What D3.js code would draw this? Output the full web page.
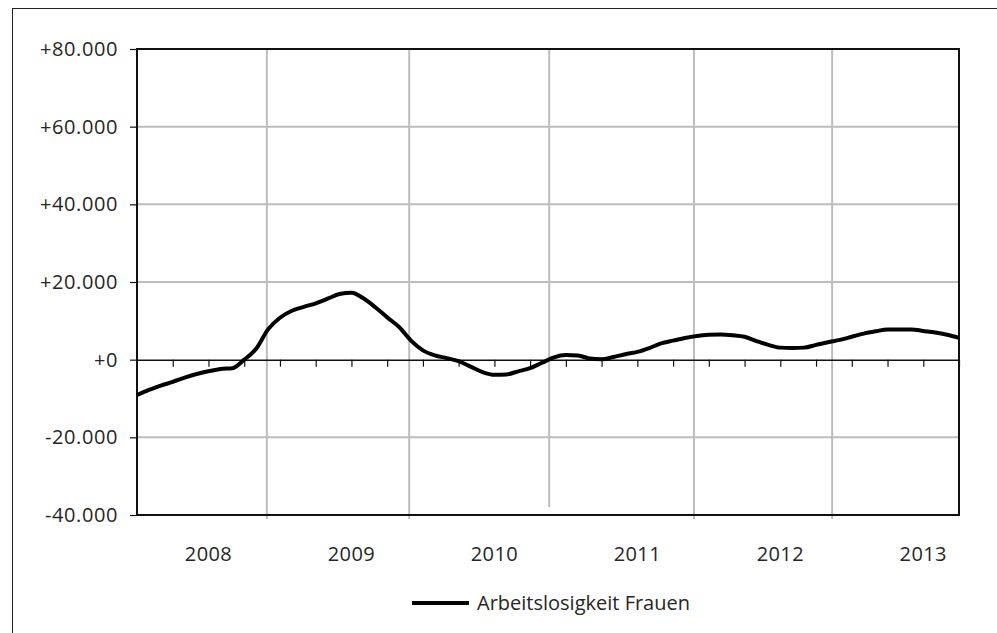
<!DOCTYPE html>
<html>
<head>
<meta charset="utf-8">
<script src="https://cdn.jsdelivr.net/npm/d3@7/dist/d3.min.js"></script>
<style>
  body { margin: 0; background: #fff; }
  svg { display: block; }
  text { font-family: "Open Sans", "DejaVu Sans", sans-serif; fill: #262626; }
</style>
</head>
<body>
<svg id="chart" width="997" height="633"></svg>
<script>
// Year labels on the category axis (each centred on its year)
const years = ["2008", "2009", "2010", "2011", "2012", "2013"];
// Value axis ticks
const yTicks = [-40000, -20000, 0, 20000, 40000, 60000, 80000];
// Monthly change, Jan 2008 – Oct 2013
const values = [
  -9100, -7800, -6700, -5700, -4600, -3700, -3000, -2400, -2200, 0,
   2800,  7800, 10800, 12600, 13600, 14500, 15700, 16900, 17200, 15800,
  13500, 10900,  8400,  4900,  2400,  1100,   400,  -400, -1800, -3200,
  -3900, -3800, -3000, -2200,  -800,   600,  1200,  1100,   300,   100,
    700,  1400,  2000,  3000,  4200,  4900,  5600,  6100,  6400,  6500,
   6300,  5900,  4800,  3800,  3100,  3000,  3100,  3800,  4500,  5100,
   5900,  6700,  7300,  7800,  7800,  7800,  7400,  7000,  6400,  5600
];
// Vertical reference lines, in months from Jan 2008
const markers = [10.9, 22.85, 34.6, 46.75, 58.35];
// How far each reference line reaches past the bottom of the plot (px)
const markerOverhang = [4, 4, -8, 4, 4];
const seriesName = "Arbeitslosigkeit Frauen";

const svg = d3.select("#chart");
const W = 997, H = 633;
const margin = { top: 49, right: 38, bottom: 118, left: 137 };
const iw = W - margin.left - margin.right;
const ih = H - margin.top - margin.bottom;
const fontSize = 20;

const locale = d3.formatLocale({ decimal: ",", thousands: ".", grouping: [3], currency: ["", " €"], minus: "-" });
const fmt = locale.format("+,");

const x = d3.scaleLinear().domain([0, values.length - 1]).range([0, iw]);
const y = d3.scaleLinear().domain([-40000, 80000]).range([ih, 0]);

// Outer chart frame (extends past the right and bottom edge)
svg.append("rect")
  .attr("x", 12.5).attr("y", 8.5)
  .attr("width", W).attr("height", H)
  .attr("fill", "none").attr("stroke", "#222").attr("stroke-width", 1);

const g = svg.append("g").attr("transform", `translate(${margin.left},${margin.top})`);

// Horizontal gridlines
g.append("g").selectAll("line")
  .data(yTicks.filter(d => d !== 0 && d !== -40000 && d !== 80000))
  .join("line")
  .attr("x1", 0).attr("x2", iw)
  .attr("y1", d => y(d)).attr("y2", d => y(d))
  .attr("stroke", "#bdbdbd").attr("stroke-width", 2);

// Vertical reference lines
g.append("g").selectAll("line")
  .data(markers)
  .join("line")
  .attr("x1", d => x(d)).attr("x2", d => x(d))
  .attr("y1", 0).attr("y2", (d, i) => ih + markerOverhang[i])
  .attr("stroke", "#bdbdbd").attr("stroke-width", 2);

// Plot border
g.append("rect")
  .attr("x", 0).attr("y", 0).attr("width", iw).attr("height", ih)
  .attr("fill", "none").attr("stroke", "#111").attr("stroke-width", 2);

// Value axis
const yAxis = g.append("g")
  .call(d3.axisLeft(y).tickValues(yTicks).tickFormat(fmt).tickSize(7).tickPadding(12));
yAxis.select(".domain").remove();
yAxis.selectAll("line").attr("stroke", "#111").attr("stroke-width", 1.2);
yAxis.selectAll("text").attr("font-size", fontSize).attr("fill", "#262626")
  .attr("letter-spacing", 0.6)
  .style("font-family", '"Open Sans", "DejaVu Sans", sans-serif');

// Zero line with quarterly ticks
const quarterTicks = d3.range(0, values.length, 3);
const zeroAxis = g.append("g").attr("transform", `translate(0,${y(0)})`)
  .call(d3.axisBottom(x).tickValues(quarterTicks).tickFormat("").tickSize(7).tickSizeOuter(0));
zeroAxis.select(".domain").attr("stroke", "#111").attr("stroke-width", 1.5);
zeroAxis.selectAll(".tick line").attr("stroke", "#111").attr("stroke-width", 1.2);
zeroAxis.selectAll(".tick").filter(d => d === 0).remove();

// Year labels
g.append("g").selectAll("text")
  .data(years)
  .join("text")
  .attr("x", (d, i) => x(i * 12 + 6))
  .attr("y", ih + 46)
  .attr("text-anchor", "middle")
  .attr("font-size", fontSize)
  .attr("letter-spacing", 0.4)
  .text(d => d);

// Series line
const line = d3.line()
  .x((d, i) => x(i))
  .y(d => y(d))
  .curve(d3.curveMonotoneX);

g.append("path")
  .datum(values)
  .attr("d", line)
  .attr("fill", "none")
  .attr("stroke", "#000")
  .attr("stroke-width", 4)
  .attr("stroke-linejoin", "round");

// Legend
const legend = svg.append("g").attr("transform", "translate(412,603)");
legend.append("line")
  .attr("x1", 0).attr("x2", 57).attr("y1", 0).attr("y2", 0)
  .attr("stroke", "#000").attr("stroke-width", 4);
legend.append("text")
  .attr("x", 65).attr("y", 0).attr("dy", "0.35em")
  .attr("font-size", fontSize)
  .text(seriesName);
</script>
</body>
</html>
